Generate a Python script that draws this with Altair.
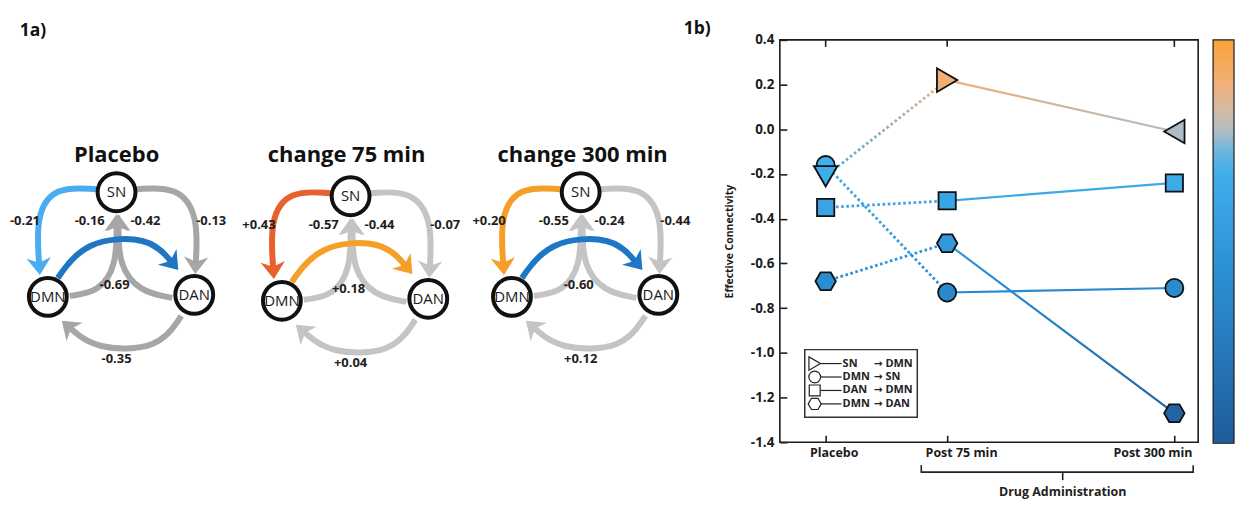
import math
import altair as alt
import pandas as pd

# ----------------------------------------------------------------- data
sessions = ["Placebo", "Post 75 min", "Post 300 min"]
connections = ["SN → DMN", "DMN → SN", "DAN → DMN", "DMN → DAN"]
sn_to_dmn = [-0.21, 0.22, -0.01]
dmn_to_sn = [-0.16, -0.73, -0.71]
dan_to_dmn = [-0.35, -0.32, -0.24]
dmn_to_dan = [-0.68, -0.51, -1.27]
y_ticks = [0.4, 0.2, 0.0, -0.2, -0.4, -0.6, -0.8, -1.0, -1.2, -1.4]
y_title = "Effective Connectivity"
group_label = "Drug Administration"

diagram_titles = ["Placebo", "change 75 min", "change 300 min"]
node_names = ["SN", "DMN", "DAN"]
edge_sources = ["SN", "DMN", "DAN", "SN", "DMN", "DAN"]
edge_targets = ["DMN", "SN", "SN", "DAN", "DAN", "DMN"]
placebo_labels = ["-0.21", "-0.16", "-0.42", "-0.13", "-0.69", "-0.35"]
change75_labels = ["+0.43", "-0.57", "-0.44", "-0.07", "+0.18", "+0.04"]
change300_labels = ["+0.20", "-0.55", "-0.24", "-0.44", "-0.60", "+0.12"]
panel_labels = ["1a)", "1b)"]

# ----------------------------------------------------------------- style / layout
FONT = "Open Sans"
INK = "#1c1c1c"

# panel 1b: session positions along x (unequal spacing as in the figure)
session_pos = [0.0, 1.0, 2.87]
x_dom = [-0.377, 3.066]
cmap_vals = [-1.4, -0.6, -0.15, 0.02, 0.2, 0.4]
cmap_cols = ["#1f5c9a", "#2c92d7", "#43b1ee", "#c4c0bc", "#f1b07c", "#f8a136"]
HEX = "M-1,0 L-0.5,-0.866 L0.5,-0.866 L1,0 L0.5,0.866 L-0.5,0.866 Z"
marker_shapes = [["triangle-down", "triangle-right", "triangle-left"],
                 ["circle"] * 3, ["square"] * 3, [HEX] * 3]
marker_sizes = [560, 330, 300, 420]
legend_shapes = ["triangle-right", "circle", "square", HEX]


def hex2rgb(h):
    return tuple(int(h[i:i + 2], 16) for i in (1, 3, 5))


def cmap(v):
    v = max(cmap_vals[0], min(cmap_vals[-1], v))
    for i in range(len(cmap_vals) - 1):
        a, b = cmap_vals[i], cmap_vals[i + 1]
        if v <= b:
            t = (v - a) / (b - a)
            ca, cb = hex2rgb(cmap_cols[i]), hex2rgb(cmap_cols[i + 1])
            return "#%02x%02x%02x" % tuple(round(ca[j] + (cb[j] - ca[j]) * t) for j in range(3))
    return cmap_cols[-1]


# panel 1a: diagram layout in page pixels (placebo diagram, others shifted)
node_xy = {"SN": (117, 192), "DMN": (48, 297), "DAN": (195, 295)}
diagram_offsets = [(0, 0), (235, 4), (466, 0)]
title_xy = [(117, 155), (348, 155), (585, 155)]
edge_geom = [  # start, B-spline control points ..., arrow tip
    [(97, 189), (55, 186), (36, 215), (40, 275)],       # SN -> DMN
    [(70, 296), (100, 292), (117, 265), (117, 214)],    # DMN -> SN
    [(173, 298), (140, 292), (119, 265), (119, 214)],   # DAN -> SN
    [(137, 189), (178, 186), (199, 215), (196, 274)],   # SN -> DAN
    [(58, 278), (85, 240), (150, 236), (179, 270)],     # DMN -> DAN
    [(182, 316), (160, 350), (95, 350), (62, 321)],     # DAN -> DMN
]
label_xy = [(25, 221), (90, 221), (146, 221), (212, 221), (115, 285), (117, 359)]
gray_pl, gray_ch = "#a6a6a6", "#c4c4c4"
diagram_edge_colors = [
    ["#4badef", gray_pl, gray_pl, gray_pl, "#1f76c2", gray_pl],
    ["#e8602b", gray_ch, gray_ch, gray_ch, "#f49f27", gray_ch],
    ["#f49f27", gray_ch, gray_ch, gray_ch, "#1c77c6", gray_ch],
]
highlight = [True, False, False, False, True, False]
ARROW = "M0,0 L1,1.4 L0,1.0 L-1,1.4 Z"

# ----------------------------------------------------------------- panel 1b (data scales)
label_expr = (f"datum.value < 0.5 ? '{sessions[0]}' : "
              f"(datum.value < 1.5 ? '{sessions[1]}' : '{sessions[2]}')")
XB = alt.X("x:Q", scale=alt.Scale(domain=x_dom, nice=False, zero=False),
           axis=alt.Axis(values=session_pos, labelExpr=label_expr, offset=-7, domain=False,
                         tickSize=7, tickWidth=1.6, tickColor=INK, grid=False, title=None,
                         labelFont=FONT, labelFontWeight="bold", labelFontSize=12.5,
                         labelColor=INK, labelPadding=4,
                         labelOffset={"expr": "datum.value < 0.5 ? 8 : (datum.value < 1.5 ? 14 : -22)"}))
YB = alt.Y("v:Q", scale=alt.Scale(domain=[-1.4, 0.4], nice=False, zero=False),
           axis=alt.Axis(values=y_ticks,
                         labelExpr="replace(format(datum.value, '.1f'), '\u2212', '-')",
                         offset=-7, domain=False, tickSize=7, tickWidth=1.6, tickColor=INK,
                         grid=False, labelFont=FONT, labelFontWeight="bold", labelFontSize=13.5,
                         labelColor=INK, labelPadding=6, title=y_title, titleFont=FONT,
                         titleFontSize=10.5, titleFontWeight="bold", titleColor=INK,
                         titlePadding=16))

series = [sn_to_dmn, dmn_to_sn, dan_to_dmn, dmn_to_dan]
seg_layers = []
for ci, vals in enumerate(series):
    for si in range(2):
        df = pd.DataFrame({"x": session_pos[si:si + 2], "v": vals[si:si + 2]})
        grad = alt.LinearGradient(
            gradient="linear", x1=0, y1=0, x2=1, y2=0,
            stops=[alt.GradientStop(color=cmap(vals[si]), offset=0),
                   alt.GradientStop(color=cmap(vals[si + 1]), offset=1)])
        kw = dict(strokeWidth=2.8, strokeDash=[2.6, 2.6]) if si == 0 else dict(strokeWidth=2.2)
        seg_layers.append(alt.Chart(df).mark_line(color=grad, strokeCap="butt", **kw)
                          .encode(x=XB, y=YB))

pts_rows = []
for ci in [3, 2, 1, 0]:
    for si in range(3):
        pts_rows.append(dict(x=session_pos[si], v=series[ci][si],
                             shp=marker_shapes[ci][si], sz=marker_sizes[ci]))
points = alt.Chart(pd.DataFrame(pts_rows)).mark_point(
    filled=True, opacity=1, stroke="#111", strokeWidth=1.8).encode(
    x=XB, y=YB,
    color=alt.Color("v:Q", scale=alt.Scale(domain=cmap_vals, range=cmap_cols, interpolate="rgb"),
                    legend=alt.Legend(orient="none", legendX=435, legendY=0, direction="vertical",
                                      gradientLength=405, gradientThickness=21,
                                      gradientStrokeColor=INK, gradientStrokeWidth=1.2,
                                      title=None, labelExpr="''", labelOpacity=0,
                                      labelFontSize=1, padding=0)),
    shape=alt.Shape("shp:N", scale=None),
    size=alt.Size("sz:Q", scale=None),
)
top_ticks = alt.Chart(pd.DataFrame({"x": session_pos})).mark_rule(
    color=INK, strokeWidth=1.6).encode(x=XB, y=alt.value(0), y2=alt.value(7))

panel_b = alt.layer(*seg_layers, points, top_ticks)

# ----------------------------------------------------------------- page overlay (pixel scales)
PXS = alt.Scale(domain=[783, 1203], nice=False, zero=False)
PYS = alt.Scale(domain=[443, 39], nice=False, zero=False)


def PX(f="x"):
    return alt.X(f"{f}:Q", scale=PXS, axis=None)


def PY(f="y"):
    return alt.Y(f"{f}:Q", scale=PYS, axis=None)


line_rows, head_rows, lab_rows, node_rows = [], [], [], []
all_labels = [placebo_labels, change75_labels, change300_labels]
for d in range(3):
    ox, oy = diagram_offsets[d]
    for k in range(6):
        pts = [(px + ox, py + oy) for px, py in edge_geom[k]]
        (cx, cy), (tx, ty) = pts[-2], pts[-1]
        dx, dy = tx - cx, ty - cy
        L = math.hypot(dx, dy)
        ux, uy = dx / L, dy / L
        pts[-1] = (tx - 11 * ux, ty - 11 * uy)
        col = diagram_edge_colors[d][k]
        eid = f"{d}-{edge_sources[k]}-{edge_targets[k]}"
        for o, (px, py) in enumerate(pts):
            line_rows.append(dict(x=px, y=py, o=o, eid=eid, col=col, hl=highlight[k]))
        head_rows.append(dict(x=tx, y=ty, ang=math.degrees(math.atan2(ux, -uy)) % 360,
                              col=col, hl=highlight[k]))
        lx, ly = label_xy[k]
        lab_rows.append(dict(x=lx + ox, y=ly + oy, t=all_labels[d][k]))
    for n in node_names:
        nx, ny = node_xy[n]
        node_rows.append(dict(x=nx + ox, y=ny + oy, t=n))

lines_df = pd.DataFrame(line_rows)
heads_df = pd.DataFrame(head_rows)


def edge_layers(flag):
    lines = alt.Chart(lines_df[lines_df.hl == flag]).mark_line(
        interpolate="basis", strokeWidth=6, strokeCap="butt").encode(
        x=PX(), y=PY(), detail="eid:N", order="o:Q", color=alt.Color("col:N", scale=None))
    heads = alt.Chart(heads_df[heads_df.hl == flag]).mark_point(
        shape=ARROW, filled=True, size=600, opacity=1, strokeWidth=0).encode(
        x=PX(), y=PY(), angle=alt.Angle("ang:Q", scale=None), color=alt.Color("col:N", scale=None))
    return [lines, heads]


nodes = alt.Chart(pd.DataFrame(node_rows)).mark_point(
    shape="circle", filled=True, fill="white", stroke="#111", strokeWidth=4, size=1444,
    opacity=1).encode(x=PX(), y=PY())
node_text = alt.Chart(pd.DataFrame(node_rows)).mark_text(
    font=FONT, fontSize=15, color="#1a1a1a", baseline="middle").encode(x=PX(), y=PY(), text="t:N")
edge_text = alt.Chart(pd.DataFrame(lab_rows)).mark_text(
    font=FONT, fontSize=13, fontWeight="bold", color="#1e1e1e", baseline="middle").encode(
    x=PX(), y=PY(), text="t:N")
titles = alt.Chart(pd.DataFrame({"x": [p[0] for p in title_xy], "y": [p[1] for p in title_xy],
                                 "t": diagram_titles})).mark_text(
    font=FONT, fontSize=22, fontWeight="bold", color="#111", baseline="middle").encode(
    x=PX(), y=PY(), text="t:N")
plabels = alt.Chart(pd.DataFrame({"x": [33, 700], "y": [30, 28], "t": panel_labels})).mark_text(
    font=FONT, fontSize=17.5, fontWeight="bold", color="#111", baseline="middle").encode(
    x=PX(), y=PY(), text="t:N")

# legend box inside panel 1b
row_y = [364, 377.5, 391, 404.5]
box = alt.Chart(pd.DataFrame({"x": [808], "x2": [921], "y": [350], "y2": [418]})).mark_rect(
    fill="white", stroke="#333", strokeWidth=1.5).encode(
    x=PX(), x2="x2:Q", y=PY(), y2="y2:Q")
leg_sym = alt.Chart(pd.DataFrame({"x": [818] * 4, "y": row_y, "shp": legend_shapes,
                                  "sz": [180, 140, 120, 170]})).mark_point(
    filled=False, stroke="#222", strokeWidth=1.2, opacity=1).encode(
    x=PX(), y=PY(), shape=alt.Shape("shp:N", scale=None), size=alt.Size("sz:Q", scale=None))
leg_line = alt.Chart(pd.DataFrame({"x": [824] * 4, "x2": [845] * 4, "y": row_y})).mark_rule(
    color="#222", strokeWidth=1.2).encode(x=PX(), x2="x2:Q", y=PY())
src = [c.split(" → ")[0] for c in connections]
tgt = [c.split(" → ")[1] for c in connections]
leg_src = alt.Chart(pd.DataFrame({"x": [846] * 4, "y": row_y, "t": src})).mark_text(
    font=FONT, fontSize=11, fontWeight="bold", color="#222", align="left",
    baseline="middle").encode(x=PX(), y=PY(), text="t:N")
leg_arr = alt.Chart(pd.DataFrame({"x": [882] * 4, "y": row_y, "t": ["→"] * 4})).mark_text(
    font="DejaVu Sans", fontSize=10.5, fontWeight="bold", color="#222", align="center",
    baseline="middle").encode(x=PX(), y=PY(), text="t:N")
leg_tgt = alt.Chart(pd.DataFrame({"x": [889] * 4, "y": row_y, "t": tgt})).mark_text(
    font=FONT, fontSize=11, fontWeight="bold", color="#222", align="left",
    baseline="middle").encode(x=PX(), y=PY(), text="t:N")

# bracket under the x axis
bracket = alt.Chart(pd.DataFrame({
    "x": [925, 925, 1198, 1067], "x2": [1198, 925, 1198, 1067],
    "y": [473, 466, 466, 473], "y2": [473, 473.8, 473.8, 481]})).mark_rule(
    color="#222", strokeWidth=1.6).encode(x=PX(), x2="x2:Q", y=PY(), y2="y2:Q")
bracket_text = alt.Chart(pd.DataFrame({"x": [1067], "y": [493], "t": [group_label]})).mark_text(
    font=FONT, fontSize=12.5, fontWeight="bold", color="#222", baseline="middle").encode(
    x=PX(), y=PY(), text="t:N")

panel_a = alt.layer(*edge_layers(False), *edge_layers(True), nodes, node_text, edge_text,
                    titles, plabels, box, leg_sym, leg_line, leg_src, leg_arr, leg_tgt,
                    bracket, bracket_text)

chart = alt.layer(panel_b, panel_a).resolve_scale(
    x="independent", y="independent", color="independent", shape="independent",
    size="independent", angle="independent"
).properties(
    width=420, height=404,
    autosize=alt.AutoSizeParams(type="none"),
    padding={"left": 775, "top": 31, "right": 38, "bottom": 63},
).configure(font=FONT).configure_view(stroke=INK, strokeWidth=1.6)

chart.save("out.html", embed_options={"renderer": "svg", "actions": False})
